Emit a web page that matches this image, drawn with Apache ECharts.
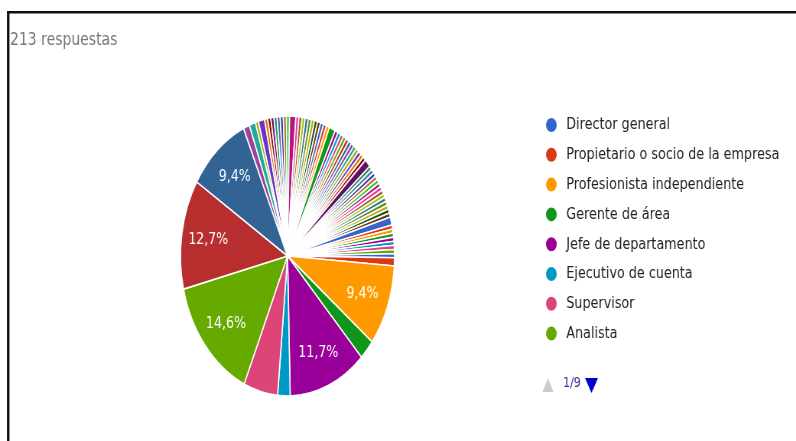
<!doctype html>
<html>
<head>
<meta charset="utf-8">
<title>213 respuestas</title>
<script src="https://cdn.jsdelivr.net/npm/echarts@6/dist/echarts.min.js"></script>
<style>
    html, body { margin: 0; padding: 0; background: #fff; overflow: hidden; }
    #wrap { width: 796px; height: 441px; overflow: hidden; position: relative; }
    /* the source picture is squeezed sideways, so the chart is drawn wide and squeezed back */
    #chart { width: 1041px; height: 441px; transform: scaleX(0.7647); transform-origin: 0 0; }
</style>
</head>
<body>
<div id="wrap"><div id="chart"></div></div>
<script type="text/javascript">
    var squeeze = 0.7647;

    // answers shown on page 1 of the legend
    var roles = ['Director general', 'Propietario o socio de la empresa', 'Profesionista independiente',
        'Gerente de área', 'Jefe de departamento', 'Ejecutivo de cuenta', 'Supervisor', 'Analista'];
    var roleCounts = [1, 2, 20, 5, 25, 4, 11, 31];

    // the other answers (legend pages 2..9, not readable in the picture)
    var otherCounts = [27, 20,
        2, 2, 1, 2, 1, 1, 1, 1, 1, 1,
        1, 1, 2, 1, 1, 1, 1, 1, 1, 1,
        1, 1, 1, 1, 2, 1, 1, 1, 1, 1,
        1, 1, 1, 1, 1, 1, 1, 2, 1, 1,
        1, 1, 1, 1, 1, 1, 1, 1, 1, 1,
        1, 1, 2, 1, 1, 1, 1, 1, 1, 1];

    var palette = ['#3366cc', '#dc3912', '#ff9900', '#109618', '#990099', '#0099c6', '#dd4477', '#66aa00',
        '#b82e2e', '#316395', '#994499', '#22aa99', '#aaaa11', '#6633cc', '#e67300', '#8b0707', '#651067',
        '#329262', '#5574a6', '#3b3eac', '#b77322', '#16d620', '#b91383', '#f4359e', '#9c5935', '#a9c413',
        '#2a778d', '#668d1c', '#bea413', '#0c5922', '#743411'];

    var names = roles.slice();
    var counts = roleCounts.concat(otherCounts);
    for (var i = 0; i < otherCounts.length; i++) {
        names.push('Otra respuesta ' + (i + 1));
    }
    var total = 0;
    counts.forEach(function (v) { total += v; });
    var pageCount = Math.ceil(names.length / roles.length);

    var pieData = [], labelData = [];
    for (var k = 0; k < names.length; k++) {
        pieData.push({name: names[k], value: counts[k], itemStyle: {color: palette[k % palette.length]}});
        labelData.push({name: names[k], value: counts[k]});
    }

    var font = 'DejaVu Sans';
    var cx = 376, cy = 256, R = 140;
    var px = function (x) { return x / squeeze; };   // picture x -> chart x

    var option = {
        animation: false,
        title: {
            text: total + ' respuestas',
            left: px(10), top: 31, padding: 0,
            textStyle: {fontFamily: font, fontSize: 18.3, fontWeight: 'normal', color: '#757575'}
        },
        legend: {
            orient: 'vertical',
            left: 712, top: 116, padding: 0,
            itemWidth: 29, itemHeight: 16, itemGap: 11.8,
            icon: 'circle',
            selectedMode: false,
            data: roles,
            textStyle: {fontFamily: font, fontSize: 16.7, color: '#222222', lineHeight: 18}
        },
        series: [
            {
                name: 'puesto',
                type: 'pie',
                center: [cx, cy],
                radius: [0, R],
                startAngle: 1,
                clockwise: true,
                silent: true,
                data: pieData,
                label: {show: false},
                labelLine: {show: false},
                itemStyle: {borderColor: '#ffffff', borderWidth: 1.6}
            },
            {
                // transparent ring, only used to place the percentages
                name: 'etiquetas',
                type: 'pie',
                center: [cx, cy],
                radius: [64, R],
                startAngle: 1,
                clockwise: true,
                silent: true,
                data: labelData,
                itemStyle: {color: 'rgba(0,0,0,0)', borderWidth: 0},
                labelLine: {show: false},
                label: {
                    show: true,
                    position: 'inside',
                    fontFamily: font, fontSize: 16.5, color: '#ffffff',
                    formatter: function (p) {
                        var share = p.value / total;
                        return share >= 0.08 ? (share * 100).toFixed(1).replace('.', ',') + '%' : '';
                    }
                }
            }
        ],
        graphic: [
            {type: 'line', shape: {x1: px(7), y1: 12.2, x2: 1041, y2: 12.2},
                style: {stroke: '#111111', lineWidth: 2.5}},
            {type: 'line', shape: {x1: px(8.2), y1: 11, x2: px(8.2), y2: 441},
                style: {stroke: '#111111', lineWidth: 3.3}},
            {type: 'polygon', shape: {points: [[px(548), 378], [px(553.5), 392], [px(542.5), 392]]},
                style: {fill: '#cccccc'}},
            {type: 'text', left: px(563), top: 376,
                style: {text: '1/' + pageCount, fontFamily: font, fontSize: 14.5, fill: '#333399'}},
            {type: 'polygon', shape: {points: [[px(585), 378], [px(598), 378], [px(591.5), 393]]},
                style: {fill: '#0000cc'}}
        ]
    };

    var chart = echarts.init(document.getElementById('chart'), null, {renderer: 'canvas'});
    chart.setOption(option);
</script>
</body>
</html>
